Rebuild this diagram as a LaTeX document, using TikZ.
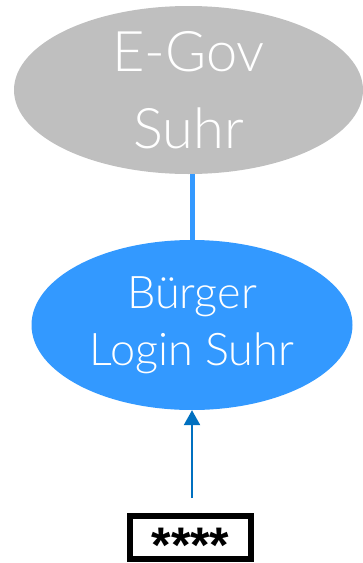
\documentclass[tikz,border=0pt]{standalone}
\usepackage{fontspec}
\setmainfont{Lato Light}
\newfontfamily\boxfont{Liberation Sans}
\usetikzlibrary{shapes.geometric,arrows.meta}
\definecolor{grayfill}{HTML}{BFBFBF}
\definecolor{bluefill}{HTML}{3399FF}
\definecolor{arrowblue}{HTML}{0070C0}
\tikzset{
  ellnode/.style={ellipse, inner sep=0pt, text=white, align=center},
}
\begin{document}
\begin{tikzpicture}[x=1pt,y=-1pt]
\useasboundingbox (0,0) rectangle (363,563);
\node[ellnode, fill=grayfill, minimum width=349, minimum height=168,
      font=\fontsize{56}{77}\selectfont] (gov) at (188.5,90) {E-Gov\\Suhr};
\node[ellnode, fill=bluefill, minimum width=321, minimum height=170,
      font=\fontsize{45}{57}\selectfont] (login) at (192,325) {Bürger\\Login Suhr};
\node[draw=black, line width=6pt, fill=white, minimum width=121, minimum height=43,
      inner sep=0pt] (pw) at (190.5,537.5) {};
\node[anchor=base, inner sep=0pt, font=\boxfont\bfseries\fontsize{50}{50}\selectfont] (pwtext) at (190.5,562) {****};
\draw[bluefill, line width=5pt] (login.north) -- (login.north |- gov.south);
\coordinate (astart) at ([yshift=15pt]pw.north);
\draw[arrowblue, line width=2.5pt, -{Triangle[length=15pt,width=16pt]}] (astart -| login.south) -- (login.south);
\end{tikzpicture}
\end{document}
